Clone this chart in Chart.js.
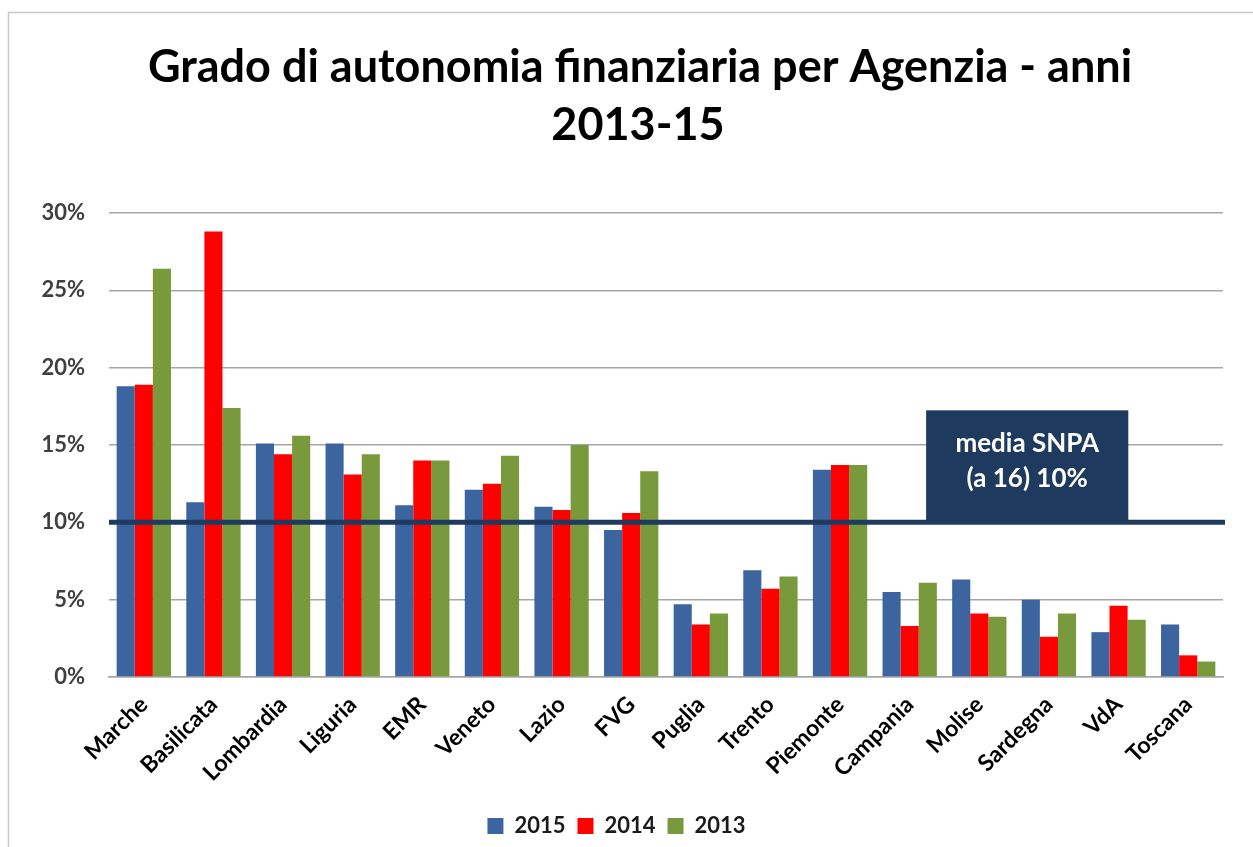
<!DOCTYPE html>
<html>
<head>
<meta charset="utf-8">
<script src="https://cdn.jsdelivr.net/npm/chart.js@4"></script>
<style>
html,body{margin:0;padding:0;background:#fff;}
#wrap{width:1253px;height:847px;position:relative;}
</style>
</head>
<body>
<div id="wrap"><canvas id="c" width="1253" height="847"></canvas></div>
<script>
const categories = ["Marche","Basilicata","Lombardia","Liguria","EMR","Veneto","Lazio","FVG","Puglia","Trento","Piemonte","Campania","Molise","Sardegna","VdA","Toscana"];
const seriesNames = ["2015","2014","2013"];
const values2015 = [18.8,11.3,15.1,15.1,11.1,12.1,11.0,9.5,4.7,6.9,13.4,5.5,6.3,5.0,2.9,3.4];
const values2014 = [18.9,28.8,14.4,13.1,14.0,12.5,10.8,10.6,3.4,5.7,13.7,3.3,4.1,2.6,4.6,1.4];
const values2013 = [26.4,17.4,15.6,14.4,14.0,14.3,15.0,13.3,4.1,6.5,13.7,6.1,3.9,4.1,3.7,1.0];
const yTicks = [0,5,10,15,20,25,30];
const mediaValue = 10;
const mediaLabel = ["media SNPA","(a 16) 10%"];
const titleLines = ["Grado di autonomia finanziaria per Agenzia - anni","2013-15"];

const FONT = "Lato, 'Open Sans', sans-serif";

const framePlugin = {
  id:'frame',
  beforeDraw(chart){
    const ctx = chart.ctx;
    ctx.save();
    ctx.fillStyle = '#fff';
    ctx.fillRect(0,0,chart.width,chart.height);
    ctx.strokeStyle = '#C8C8C8';
    ctx.lineWidth = 1.5;
    ctx.strokeRect(8.5,12.5,chart.width+20,chart.height+20);
    // title
    ctx.fillStyle = '#000';
    ctx.font = "bold 45px " + FONT;
    ctx.textAlign = 'center';
    ctx.textBaseline = 'middle';
    ctx.fillText(titleLines[0], 640, 67);
    ctx.fillText(titleLines[1], 638, 125);
    ctx.restore();
  }
};

const mediaPlugin = {
  id:'media',
  afterDatasetsDraw(chart){
    const ctx = chart.ctx;
    const y = chart.scales.y.getPixelForValue(mediaValue);
    const a = chart.chartArea;
    ctx.save();
    ctx.strokeStyle = '#1F3A5F';
    ctx.lineWidth = 5;
    ctx.beginPath();
    ctx.moveTo(a.left, y);
    ctx.lineTo(a.right+2, y);
    ctx.stroke();
    const w = a.right - a.left;
    const bx1 = a.left + w*0.7335, bx2 = a.left + w*0.915;
    const by1 = y - 112, by2 = y - 2;
    ctx.fillStyle = '#1F3A5F';
    ctx.fillRect(bx1, by1, bx2-bx1, by2-by1);
    ctx.fillStyle = '#fff';
    ctx.font = "bold 26px " + FONT;
    ctx.textAlign = 'center';
    ctx.textBaseline = 'middle';
    const cx = (bx1+bx2)/2;
    ctx.fillText(mediaLabel[0], cx, by1+33);
    ctx.fillText(mediaLabel[1], cx, by1+68);
    ctx.restore();
  }
};

new Chart(document.getElementById('c'), {
  type:'bar',
  data:{
    labels:categories,
    datasets:[
      {label:seriesNames[0], data:values2015, backgroundColor:'#3C65A0'},
      {label:seriesNames[1], data:values2014, backgroundColor:'#FF0000'},
      {label:seriesNames[2], data:values2013, backgroundColor:'#789A3C'}
    ]
  },
  options:{
    responsive:false,
    animation:false,
    devicePixelRatio:1,
    layout:{padding:{left:10,right:30,top:213,bottom:0}},
    datasets:{bar:{categoryPercentage:0.78, barPercentage:1.0}},
    plugins:{
      title:{display:false},
      legend:{position:'bottom', labels:{color:'#1a1a1a', font:{family:FONT,size:22,weight:'bold'}, boxWidth:16, boxHeight:16, padding:12}},
      tooltip:{enabled:false}
    },
    scales:{
      x:{
        grid:{display:false, drawTicks:false},
        border:{display:true, color:'#A6A6A6', width:1.5},
        ticks:{color:'#000', font:{family:FONT,size:23,weight:'bold'}, minRotation:45, maxRotation:45, padding:14},
        afterFit(s){ s.height = 126; }
      },
      y:{
        min:0, max:30,
        afterBuildTicks(s){ s.ticks = yTicks.map(v=>({value:v})); },
        grid:{color:'#A6A6A6', lineWidth:1.5, drawTicks:false, tickLength:0},
        border:{display:false},
        ticks:{color:'#404040', font:{family:FONT,size:22,weight:'bold'}, padding:24, callback:v=>v+'%'},
        afterFit(s){ s.width = 99; }
      }
    }
  },
  plugins:[framePlugin, mediaPlugin]
});
</script>
</body>
</html>
